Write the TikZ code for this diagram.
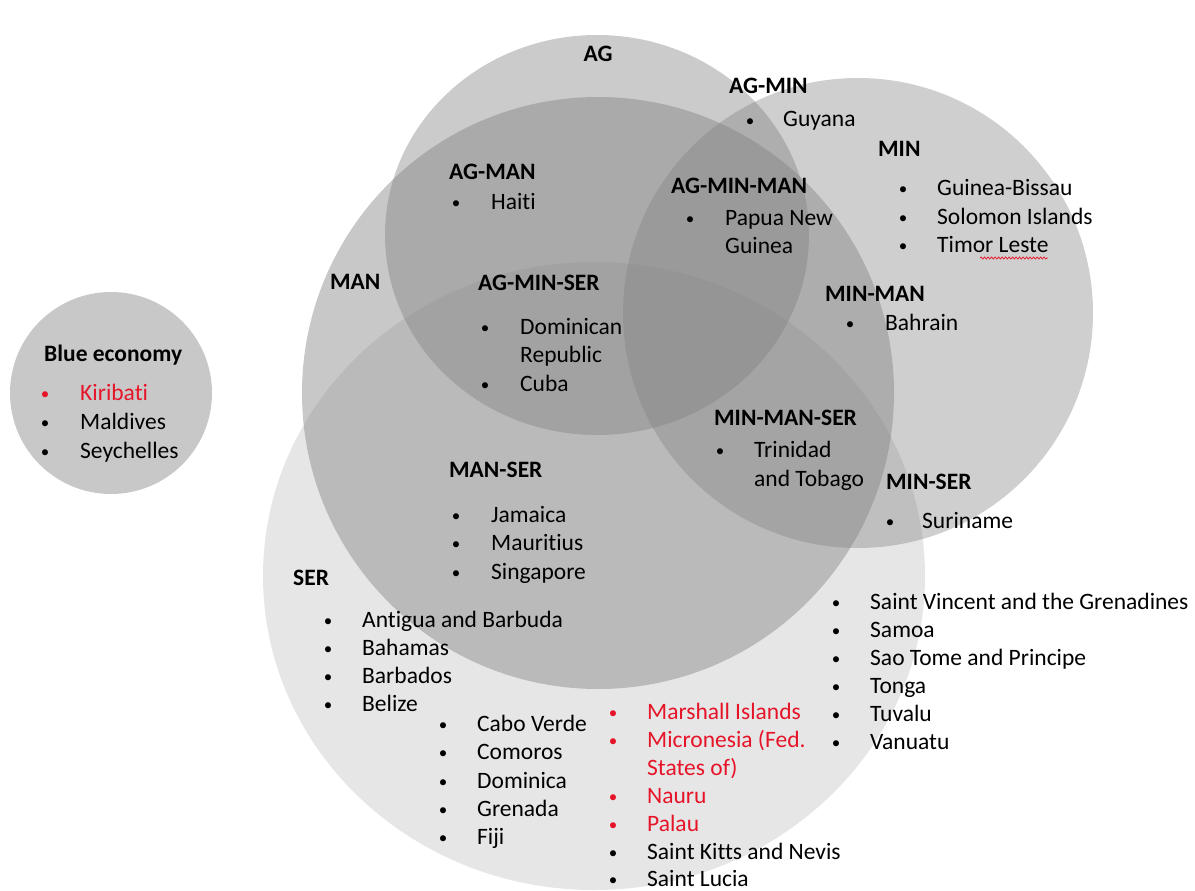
\documentclass[tikz,border=0pt]{standalone}
\usepackage{fontspec}
\setmainfont{Carlito}[Ligatures={NoCommon}]
\usetikzlibrary{decorations.pathmorphing}
\definecolor{setfill}{RGB}{128,128,128}
\definecolor{redtxt}{RGB}{230,20,40}
% one list entry: bullet node and text node on a shared baseline
% \entry[colour]{name}{bullet x}{text x}{baseline y}{text}
\newcommand{\entry}[6][black]{%
  \node[bul, text=#1] (#2-b) at (#3,#5) {•};
  \node[itm, text=#1] (#2) at (#4,#5) {#6};}
\begin{document}
\begin{tikzpicture}[x=1pt,y=-1pt,
  every node/.style={font=\fontsize{23.5}{28}\selectfont},
  setbase/.style={fill=setfill, draw=none},
  lab/.style={anchor=base west, inner sep=0, font=\fontsize{23.5}{28}\selectfont\bfseries},
  itm/.style={anchor=base west, inner sep=0},
  bul/.style={anchor=base, inner sep=0, font=\fontsize{17}{20}\selectfont, yshift=1pt},
]
\useasboundingbox (0,0) rectangle (1195,891);

% the four overlapping sector sets
\fill[setbase, fill opacity=0.20] (594,576) ellipse [x radius=331pt, y radius=314pt]; % SER
\fill[setbase, fill opacity=0.43] (598,393) circle [radius=296pt];                   % MAN
\fill[setbase, fill opacity=0.41] (597,235) ellipse [x radius=212pt, y radius=200pt]; % AG
\fill[setbase, fill opacity=0.38] (858,313) circle [radius=235pt];                   % MIN
% separate blue economy set
\fill[setbase, fill opacity=0.43] (111,393) circle [radius=101pt];

% set labels
\node[lab, anchor=base] (ag) at (598,62) {AG};
\node[lab] (agmin) at (729,94) {AG-MIN};
\node[lab] (min) at (878,157) {MIN};
\node[lab] (agman) at (449,179) {AG-MAN};
\node[lab] (agminman) at (671,193) {AG-MIN-MAN};
\node[lab] (man) at (330,289) {MAN};
\node[lab] (agminser) at (478,290) {AG-MIN-SER};
\node[lab] (minman) at (825,301) {MIN-MAN};
\node[lab] (minmanser) at (714,425) {MIN-MAN-SER};
\node[lab] (manser) at (449,477) {MAN-SER};
\node[lab] (minser) at (886,489) {MIN-SER};
\node[lab] (ser) at (293,585) {SER};
\node[lab] (blue) at (44,361) {Blue economy};

% countries
\entry{guy}{750}{783}{127}{Guyana}
\entry{gb}{903}{937}{195}{Guinea-Bissau}
\entry{sol}{903}{937}{224}{Solomon Islands}
\entry{tim}{903}{937}{252}{Timor Leste}
\entry{hai}{456}{491}{209}{Haiti}
\entry{png}{690}{725}{225}{Papua New}
\node[itm] (png2) at (725,253) {Guinea};
\entry{dom}{485}{520}{334}{Dominican}
\node[itm] (dom2) at (520,362) {Republic};
\entry{cub}{485}{520}{391}{Cuba}
\entry{bah}{850}{885}{330}{Bahrain}
\entry{tt}{720}{754}{457}{Trinidad}
\node[itm] (tt2) at (754,486) {and Tobago};
\entry{sur}{890}{922}{528}{Suriname}
\entry{jam}{456}{491}{522}{Jamaica}
\entry{mau}{456}{491}{550}{Mauritius}
\entry{sgp}{456}{491}{579}{Singapore}
\entry{atg}{328}{362}{627}{Antigua and Barbuda}
\entry{bhs}{328}{362}{655}{Bahamas}
\entry{brb}{328}{362}{683}{Barbados}
\entry{blz}{328}{362}{711}{Belize}
\entry{cpv}{443}{477}{731}{Cabo Verde}
\entry{com}{443}{477}{759}{Comoros}
\entry{dma}{443}{477}{788}{Dominica}
\entry{grd}{443}{477}{816}{Grenada}
\entry{fji}{443}{477}{844}{Fiji}
\entry[redtxt]{mhl}{613}{647}{719}{Marshall Islands}
\entry[redtxt]{fsm}{613}{647}{747}{Micronesia (Fed.}
\node[itm, text=redtxt] (fsm2) at (647,775) {States of)};
\entry[redtxt]{nru}{613}{647}{803}{Nauru}
\entry[redtxt]{plw}{613}{647}{831}{Palau}
\entry{kna}{613}{647}{859}{Saint Kitts and Nevis}
\entry{lca}{613}{647}{886}{Saint Lucia}
\entry{vct}{836}{870}{609}{Saint Vincent and the Grenadines}
\entry{wsm}{836}{870}{637}{Samoa}
\entry{stp}{836}{870}{665}{Sao Tome and Principe}
\entry{ton}{836}{870}{693}{Tonga}
\entry{tuv}{836}{870}{721}{Tuvalu}
\entry{vut}{836}{870}{749}{Vanuatu}
\entry[redtxt]{kir}{45}{80}{400}{Kiribati}
\entry{mdv}{45}{80}{429}{Maldives}
\entry{syc}{45}{80}{458}{Seychelles}

% spell-check squiggle under "Leste"
\coordinate (sq1) at (980,258);
\coordinate (sq2) at (1048,258);
\draw[redtxt, line width=0.7pt, decorate,
  decoration={snake, amplitude=1.1pt, segment length=3.5pt}] (sq1) -- (sq2);
\end{tikzpicture}
\end{document}
